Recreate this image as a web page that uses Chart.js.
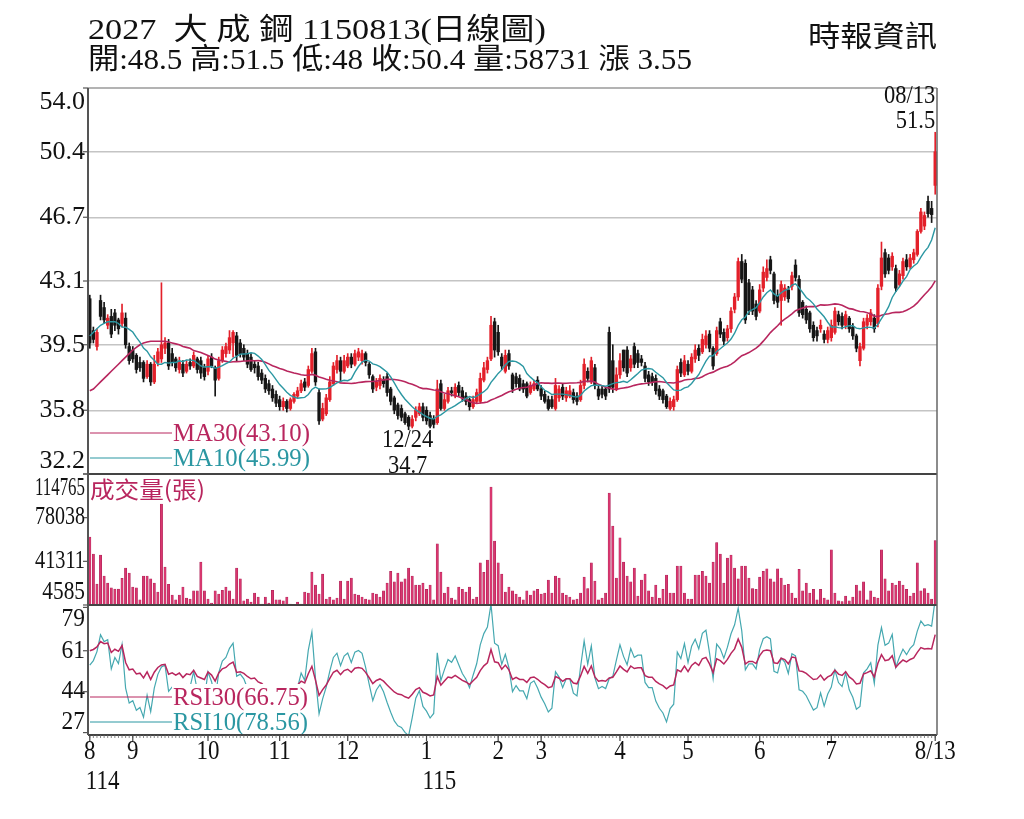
<!DOCTYPE html>
<html>
<head>
<meta charset="utf-8">
<title>2027 大成鋼 日線圖</title>
<script src="https://cdn.jsdelivr.net/npm/chart.js@4.4.1/dist/chart.umd.min.js"></script>
<style>
    html, body { margin: 0; padding: 0; background: #fff; }
    canvas { display: block; }
</style>
</head>
<body>
<canvas id="kChart" width="1024" height="819"></canvas>
<script>
// === Data ===
// one entry per trading day, 114/08/14 .. 115/08/13
const opens = [
    42.1, 40.3, 39.4, 42.0, 41.6, 40.6, 41.1, 41.3, 40.9, 40.7, 41.0, 39.4,
    39.2, 38.9, 38.5, 38.5, 37.7, 38.4, 37.4, 38.5, 38.7, 39.3, 39.6, 39.0, 38.7, 38.1, 38.4, 38.0, 38.5, 38.3, 38.7, 38.6, 38.2,
    38.0, 38.8, 38.2, 37.6, 38.6, 39.0, 39.2, 39.6, 40.0, 39.6, 39.3, 39.0, 38.8, 38.4, 38.3, 37.9, 37.6, 37.3, 37.0, 36.7,
    36.4, 36.0, 36.3, 35.9, 36.3, 36.6, 36.9, 37.4, 37.2, 38.0, 39.1, 36.8, 35.3, 35.6, 36.4, 37.3, 38.1, 38.6, 38.0,
    38.3, 38.8, 38.4, 38.8, 38.6, 39.0, 38.4, 37.7, 37.1, 37.2, 37.5, 37.7, 37.0, 36.5, 36.1, 35.9, 35.6, 35.4, 34.9, 35.4, 35.6, 36.0,
    35.8, 35.5, 35.3, 35.1, 37.3, 35.9, 36.3, 36.9, 36.6, 37.2, 36.9, 36.6, 36.4, 36.0, 36.3, 36.3, 37.5, 38.1, 38.7, 40.8,
    40.2, 38.8, 38.0, 39.0, 37.8, 37.7, 37.6, 37.3, 37.3, 36.8, 37.0, 37.5,
    37.0, 36.7, 36.4, 36.4, 35.9, 36.5, 37.1, 36.5, 36.6, 36.8, 36.6, 36.4, 37.2, 38.0, 37.4, 38.2, 37.0, 37.0, 37.0, 40.2, 38.6, 37.0,
    37.8, 39.2, 39.2, 38.2, 39.4, 39.0, 38.7, 38.3, 37.8, 37.7, 37.6, 37.0, 36.9, 36.6, 35.9, 36.0, 36.4, 38.5, 37.8,
    38.4, 38.0, 38.7, 39.3, 39.1, 39.5, 40.1, 39.3, 39.0, 40.8, 40.2, 39.9, 40.4, 41.5, 42.2, 44.2, 44.1, 43.0, 42.6, 41.8,
    41.4, 42.7, 43.3, 44.3, 43.5, 42.3, 42.0, 42.2, 42.6, 42.8, 44.0, 43.2, 41.9, 41.5, 41.3, 40.6, 40.3, 40.4, 40.1, 39.8,
    39.9, 40.2, 41.2, 41.1, 40.6, 41.0, 40.5, 40.0, 38.6, 39.3, 40.6, 40.8, 41.0, 40.7, 42.8, 44.7, 44.4, 43.9, 43.8, 42.9, 43.4,
    44.3, 43.9, 44.3, 44.6, 45.9, 46.2, 47.6, 47.2, 48.5
];
const highs = [
    42.3, 40.5, 40.4, 42.3, 41.9, 41.2, 41.5, 41.5, 41.0, 41.8, 41.3, 39.6,
    39.4, 39.0, 38.8, 38.6, 38.6, 38.5, 38.9, 39.3, 43.0, 39.9, 39.8, 39.3, 38.8, 38.8, 38.6, 38.6, 38.7, 39.1, 38.8, 38.8, 38.4,
    38.9, 39.0, 38.3, 38.8, 39.4, 39.6, 40.3, 40.3, 40.2, 39.8, 39.5, 39.2, 39.0, 38.6, 38.5, 38.1, 37.8, 37.5, 37.2, 36.9,
    36.6, 36.5, 36.4, 36.5, 36.8, 37.1, 37.5, 37.6, 38.3, 39.3, 39.3, 37.0, 36.2, 36.7, 37.7, 38.5, 38.9, 38.8, 38.9,
    39.0, 39.0, 39.2, 39.3, 39.2, 39.1, 38.5, 37.8, 37.6, 37.8, 37.7, 37.9, 37.1, 36.6, 36.2, 36.1, 35.7, 35.5, 35.5, 36.0, 36.2, 36.2,
    36.0, 35.7, 35.5, 37.5, 37.5, 36.7, 37.1, 37.1, 37.3, 37.4, 37.1, 36.8, 36.5, 36.6, 37.0, 37.9, 38.5, 38.8, 41.1, 41.0,
    40.6, 39.0, 39.2, 39.2, 37.9, 37.9, 37.8, 37.5, 37.4, 37.4, 37.5, 37.7,
    37.2, 36.9, 36.6, 36.6, 37.6, 37.2, 37.3, 37.1, 37.2, 37.0, 36.8, 37.5, 38.7, 38.2, 38.8, 38.4, 37.2, 37.2, 37.1, 40.5, 39.5, 38.2,
    39.0, 39.2, 39.4, 38.9, 39.6, 39.2, 38.9, 38.5, 38.0, 37.9, 37.8, 37.2, 37.0, 36.7, 36.5, 36.6, 38.3, 38.7, 38.9,
    38.6, 39.0, 39.5, 39.5, 40.1, 40.3, 40.3, 39.4, 40.5, 41.0, 40.4, 40.6, 41.6, 42.4, 44.4, 44.6, 44.3, 43.2, 42.8, 42.0,
    42.9, 43.9, 44.3, 44.5, 43.6, 42.6, 43.1, 42.9, 42.8, 43.6, 44.3, 43.4, 42.0, 41.7, 41.4, 40.8, 40.5, 40.9, 40.3, 40.5,
    40.9, 41.6, 41.4, 41.3, 41.4, 41.1, 40.7, 40.1, 39.6, 41.0, 41.2, 41.5, 41.2, 42.9, 45.3, 44.9, 44.6, 44.7, 44.0, 43.7, 44.4,
    44.6, 44.6, 44.9, 46.0, 47.2, 47.0, 47.9, 47.6, 51.5
];
const lows = [
    39.3, 39.6, 39.2, 40.9, 40.7, 40.4, 39.9, 40.3, 40.1, 40.5, 39.3, 38.4,
    38.5, 37.9, 38.0, 37.4, 37.6, 37.2, 37.3, 38.3, 38.5, 39.0, 38.1, 38.3, 38.0, 37.9, 37.7, 37.9, 38.1, 38.2, 37.9, 37.6, 37.5,
    37.8, 38.2, 36.6, 37.5, 38.5, 38.8, 39.0, 38.8, 38.6, 38.8, 38.6, 38.2, 38.0, 37.9, 37.5, 37.3, 36.8, 36.7, 36.3, 36.0,
    35.8, 35.8, 35.7, 35.8, 36.2, 36.5, 36.8, 36.9, 37.1, 37.9, 37.2, 35.0, 35.2, 35.5, 36.3, 37.2, 37.9, 37.4, 37.9,
    38.2, 38.2, 38.3, 38.6, 38.4, 38.3, 37.6, 36.8, 36.9, 37.0, 37.1, 36.6, 36.1, 35.6, 35.3, 35.2, 35.0, 34.7, 34.8, 35.2, 35.5, 35.2,
    35.0, 34.8, 34.8, 35.0, 35.8, 35.8, 36.2, 36.6, 36.5, 36.6, 36.3, 36.1, 35.8, 35.9, 36.2, 36.2, 37.4, 37.9, 38.6, 38.8,
    38.9, 38.1, 37.9, 38.1, 36.8, 37.1, 36.9, 36.8, 36.5, 36.7, 36.9, 36.9,
    36.4, 36.2, 35.8, 35.9, 35.8, 36.3, 36.4, 36.3, 36.5, 36.2, 36.1, 36.3, 37.0, 37.4, 37.3, 37.0, 36.4, 36.5, 36.4, 36.8, 36.8, 36.9,
    37.6, 38.0, 37.7, 38.0, 38.2, 38.2, 38.3, 37.4, 37.2, 37.2, 36.7, 36.4, 36.2, 35.9, 35.8, 35.8, 36.3, 37.7, 37.7,
    37.8, 37.9, 38.5, 38.6, 39.0, 39.3, 39.1, 38.1, 38.9, 39.9, 39.5, 39.7, 40.2, 41.3, 42.0, 43.0, 40.7, 41.2, 41.2, 40.9,
    41.3, 42.5, 43.1, 43.5, 41.8, 41.6, 40.6, 42.0, 41.9, 42.6, 43.1, 41.1, 41.0, 40.7, 40.2, 39.7, 39.7, 40.2, 39.6, 39.6,
    39.7, 40.1, 40.6, 40.4, 40.4, 40.2, 39.8, 39.1, 38.3, 39.2, 40.4, 40.6, 40.2, 40.5, 42.6, 43.3, 43.5, 43.7, 42.5, 42.8, 43.2,
    43.7, 43.8, 44.1, 44.5, 45.8, 46.0, 46.7, 46.4, 48.0
];
const closes = [
    39.6, 39.8, 40.2, 41.1, 40.9, 41.0, 40.1, 40.6, 40.4, 41.3, 39.5, 38.6,
    38.7, 38.1, 38.2, 37.6, 38.4, 37.4, 38.4, 39.1, 39.5, 39.6, 38.3, 38.5, 38.2, 38.5, 37.9, 38.4, 38.3, 38.9, 38.1, 37.9, 37.7,
    38.7, 38.3, 37.5, 38.6, 39.2, 39.4, 39.9, 40.2, 38.9, 39.0, 38.8, 38.4, 38.1, 38.2, 37.7, 37.5, 37.0, 36.9, 36.5, 36.2,
    36.0, 36.3, 35.9, 36.4, 36.7, 36.9, 37.3, 37.1, 38.1, 39.0, 37.4, 35.2, 35.9, 36.5, 37.4, 38.3, 38.6, 38.0, 38.6,
    38.8, 38.4, 39.0, 39.1, 39.0, 38.5, 37.8, 37.0, 37.4, 37.6, 37.3, 36.8, 36.3, 35.8, 35.5, 35.4, 35.1, 34.9, 35.3, 35.8, 36.0, 35.4,
    35.2, 34.9, 35.0, 37.0, 35.9, 36.4, 36.9, 36.8, 37.1, 36.8, 36.5, 36.3, 36.0, 36.4, 36.8, 37.6, 38.2, 38.6, 40.6, 39.2,
    39.1, 38.3, 38.9, 38.3, 37.0, 37.3, 37.0, 37.0, 36.6, 37.2, 37.3, 37.0,
    36.6, 36.3, 35.9, 36.0, 37.2, 37.0, 36.6, 36.9, 36.9, 36.4, 36.3, 37.2, 38.4, 37.6, 38.6, 37.2, 36.6, 36.7, 36.6, 37.0, 37.1, 37.8,
    38.6, 38.2, 37.9, 38.7, 38.4, 38.5, 38.5, 37.6, 37.4, 37.4, 36.9, 36.6, 36.4, 36.0, 36.3, 36.4, 38.1, 37.9, 38.6,
    38.0, 38.8, 39.2, 38.9, 39.8, 40.0, 39.3, 38.3, 40.3, 40.1, 39.7, 40.4, 41.4, 42.2, 44.2, 43.2, 40.9, 41.4, 41.4, 41.1,
    42.6, 43.6, 43.8, 43.7, 42.0, 41.9, 42.9, 42.7, 42.1, 43.4, 43.3, 41.3, 41.2, 40.9, 40.4, 39.9, 40.0, 40.6, 39.8, 40.3,
    40.6, 41.4, 40.8, 40.6, 41.2, 40.4, 40.0, 39.3, 39.4, 40.8, 41.0, 41.3, 40.4, 42.7, 44.4, 43.5, 43.7, 44.5, 42.7, 43.5, 44.2,
    43.9, 44.4, 44.7, 45.9, 47.0, 46.8, 46.9, 46.85, 50.4
];
// 成交量 (張)
const volumes = [
    61800, 47500, 22200, 46600, 29000, 23000, 19000, 18000, 18000, 27000,
    35700, 31500, 19700, 19000, 9000, 29000, 29000, 26500, 23000, 15500,
    89500, 36500, 22000, 13000, 9000, 13000, 19700, 10500, 9600, 16400,
    16400, 40700, 16400, 9600, 6300, 16400, 13800, 17000, 19700, 16400,
    9600, 35700, 26500, 8000, 9600, 7000, 14700, 11300, 5400, 11300,
    6300, 17000, 9000, 9000, 8000, 11300, 5400, 5000, 7000, 5400,
    15500, 14700, 32300, 21400, 13800, 30600, 9600, 11300, 9000, 10500,
    24800, 9600, 24800, 27300, 13800, 13000, 11300, 9600, 9000, 14700,
    13800, 11300, 16400, 23000, 33000, 24000, 31500, 24000, 26500, 35700,
    29000, 21400, 21400, 23000, 17700, 21400, 9000, 56000, 32300, 14700,
    19700, 10500, 9000, 19700, 17700, 15500, 19700, 9600, 11300, 40000,
    32000, 42400, 103800, 58400, 40000, 30600, 15500, 19700, 16400, 13800,
    11300, 9000, 16400, 13000, 16400, 17700, 13800, 14700, 25600, 14700,
    29000, 27300, 14700, 13000, 11300, 9000, 9600, 14700, 28000, 18500,
    40000, 24800, 9000, 10500, 14700, 98800, 71000, 27300, 61000, 40700,
    29000, 24000, 35700, 12000, 25600, 30600, 16400, 11300, 21400, 10500,
    17700, 29800, 14700, 14700, 37400, 37400, 14700, 9600, 9600, 29800,
    29800, 33000, 29000, 23000, 40700, 57000, 47500, 23000, 44000, 46600,
    35700, 26500, 37400, 37400, 27300, 18500, 17700, 28000, 33000, 35000,
    26500, 24000, 35000, 27300, 21400, 22000, 14700, 10500, 34500, 16400,
    23000, 14700, 17700, 9000, 17700, 10500, 9000, 51000, 14700, 8000,
    7500, 12000, 8000, 11300, 21400, 16400, 24000, 9000, 16400, 11300,
    10500, 51000, 26500, 16400, 23000, 21400, 24800, 21400, 17700, 12000,
    14700, 40000, 16400, 18500, 14700, 9600, 58731
];
// moving averages before a full window exists
const ma10Head = [40.0, 40.2, 40.4, 40.6, 40.7, 40.8, 40.8, 40.8, 40.7];
const ma30Head = [36.9, 37.0, 37.2, 37.4, 37.6, 37.8, 38.0, 38.2, 38.4, 38.6,
    38.8, 39.0, 39.2, 39.35, 39.5, 39.6, 39.65, 39.7, 39.7, 39.7,
    39.7, 39.7, 39.65, 39.6, 39.55, 39.5, 39.4, 39.35, 39.3];
const rsi10Start = 55;
const rsi30Start = 61;

// axis ticks
const priceTicks = [54.0, 50.4, 46.7, 43.1, 39.5, 35.8, 32.2];
const volumeTicks = [114765, 78038, 41311, 4585];
const rsiTicks = [79, 61, 44, 27];
const monthStart = [0, 12, 33, 53, 72, 94, 114, 126, 148, 167, 187, 207, 236];
const monthLabels = ['8', '9', '10', '11', '12', '1', '2', '3', '4', '5', '6', '7', '8/13'];
const yearStart = [0, 94];
const yearLabels = ['114', '115'];
const lowMark = ['12/24', '34.7'];
const highMark = ['08/13', '51.5'];
const maLegend = ['MA30(43.10)', 'MA10(45.99)'];
const rsiLegend = ['RSI30(66.75)', 'RSI10(78.56)'];

// === Colors / fonts ===
const RED = '#e3202a';
const BLACK = '#161616';
const CRIMSON = '#b8265e';
const TEAL = '#2b97a2';
const PINK = '#d9376f';
const SERIF = '"Liberation Serif", "Noto Sans CJK TC", serif';
const CJK = '"Noto Sans CJK TC", "Liberation Serif", sans-serif';

// === Derived series ===
const candleColors = closes.map((c, i) => c > opens[i] ? RED : BLACK);
const wicks = closes.map((c, i) => [Math.min(lows[i], opens[i], c), Math.max(highs[i], opens[i], c)]);
const bodies = closes.map((c, i) => [opens[i], c]);

function movingAverage(n, head) {
    return closes.map((c, i) => {
        if (i < n - 1) return head[i];
        let sum = 0;
        for (let k = i - n + 1; k <= i; k++) sum += closes[k];
        return sum / n;
    });
}

function rsi(n, start) {
    let gain = start / 100 * 0.5;
    let loss = (1 - start / 100) * 0.5;
    return closes.map((c, i) => {
        if (i > 0) {
            const d = c - closes[i - 1];
            gain = (gain * (n - 1) + Math.max(d, 0)) / n;
            loss = (loss * (n - 1) + Math.max(-d, 0)) / n;
        }
        return 100 * gain / (gain + loss);
    });
}

const ma10 = movingAverage(10, ma10Head);
const ma30 = movingAverage(30, ma30Head);
const rsi10 = rsi(10, rsi10Start);
const rsi30 = rsi(30, rsi30Start);

// draw text, optionally squeezed to a given width
function txt(ctx, s, x, y, o) {
    ctx.save();
    ctx.font = o.font;
    ctx.textBaseline = o.base || 'middle';
    ctx.textAlign = 'left';
    const w = ctx.measureText(s).width;
    let sx = o.width ? o.width / w : (o.sx || 1);
    if (o.maxW && w * sx > o.maxW) sx = o.maxW / w;
    const dw = w * sx;
    let left = x;
    if (o.align === 'right') left = x - dw;
    else if (o.align === 'center') left = x - dw / 2;
    ctx.fillStyle = o.color || '#111';
    ctx.translate(left, y);
    ctx.scale(sx, 1);
    ctx.fillText(s, 0, 0);
    ctx.restore();
}

function hline(ctx, x1, x2, y, color, w) {
    ctx.beginPath();
    ctx.strokeStyle = color;
    ctx.lineWidth = w;
    ctx.moveTo(x1, y);
    ctx.lineTo(x2, y);
    ctx.stroke();
}

function vline(ctx, x, y1, y2, color, w) {
    ctx.beginPath();
    ctx.strokeStyle = color;
    ctx.lineWidth = w;
    ctx.moveTo(x, y1);
    ctx.lineTo(x, y2);
    ctx.stroke();
}

// === Frame, labels and legends ===
const framePlugin = {
    id: 'frame',
    afterDraw(chart) {
        const { ctx, chartArea: a, scales } = chart;
        const xs = scales.x, yp = scales.y, yv = scales.yv, yr = scales.yr;

        // legend blocks (white backing hides the lines under the text)
        ctx.fillStyle = '#fff';
        ctx.fillRect(172, 684, 140, 50);
        const legendRows = [
            [433, maLegend[0], CRIMSON], [458, maLegend[1], TEAL],
            [697, rsiLegend[0], CRIMSON], [722, rsiLegend[1], TEAL]
        ];
        legendRows.forEach(([y, s, col]) => {
            hline(ctx, 90, 172, y, col, 1);
            txt(ctx, s, 173, y + 1, { font: '25px ' + SERIF, color: col, width: s.length > 11 ? 135 : 137 });
        });
        txt(ctx, '成交量(張)', 90, 489, { font: '23px ' + CJK, color: CRIMSON, width: 115 });

        // panel borders
        hline(ctx, a.left, a.right, a.top, '#9a9a9a', 1.5);
        hline(ctx, a.left, a.right, yp.bottom, '#444', 2);
        hline(ctx, a.left, a.right, yv.bottom, '#444', 2);
        hline(ctx, a.left, a.right, a.bottom, '#444', 2);
        vline(ctx, a.left, a.top, a.bottom, '#555', 2);
        vline(ctx, a.right, a.top, a.bottom, '#666', 1.5);

        // y labels, edge labels pushed inside their panel
        const axisLabels = (scale, vals, fmt, opt) => {
            vals.forEach(v => {
                const py = scale.getPixelForValue(v);
                const ly = Math.min(Math.max(py, scale.top + 14), scale.bottom - 13);
                hline(ctx, a.left - 5, a.left, py, '#555', 1.2);
                txt(ctx, fmt(v), 85, ly, Object.assign({ align: 'right' }, opt));
            });
        };
        axisLabels(yp, priceTicks, v => v.toFixed(1), { font: '26px ' + SERIF });
        axisLabels(yv, volumeTicks, v => String(v), { font: '26px ' + SERIF, sx: 0.82, maxW: 50 });
        axisLabels(yr, rsiTicks, v => String(v), { font: '26px ' + SERIF, sx: 0.9 });

        // x tick marks and month labels
        for (let i = 0; i < closes.length; i++) {
            vline(ctx, xs.getPixelForValue(i), a.bottom, a.bottom + 3, '#666', 0.8);
        }
        monthStart.forEach((i, k) => {
            const px = xs.getPixelForValue(i);
            vline(ctx, px, a.bottom, a.bottom + 6, '#444', 1.2);
            txt(ctx, monthLabels[k], px, 759, { font: '28px ' + SERIF, align: 'center', sx: 0.82, base: 'alphabetic' });
        });
        yearStart.forEach((i, k) => {
            const px = xs.getPixelForValue(i);
            txt(ctx, yearLabels[k], px - 4, 789, { font: '28px ' + SERIF, sx: 0.82, base: 'alphabetic' });
        });

        // low / last-day marks
        let lowIdx = 0;
        lows.forEach((l, i) => { if (l < lows[lowIdx]) lowIdx = i; });
        const lx = xs.getPixelForValue(lowIdx);
        txt(ctx, lowMark[0], lx - 1, 440, { font: '25px ' + SERIF, align: 'center', sx: 0.9 });
        txt(ctx, lowMark[1], lx - 1, 466, { font: '25px ' + SERIF, align: 'center', sx: 0.9 });
        const last = closes.length - 1;
        const hx = xs.getPixelForValue(last);
        const hy = yp.getPixelForValue(highs[last]);
        txt(ctx, highMark[0], hx, hy - 36, { font: '25px ' + SERIF, align: 'right', sx: 0.9 });
        txt(ctx, highMark[1], hx, hy - 11, { font: '25px ' + SERIF, align: 'right', sx: 0.9 });

        // title block
        const prev = closes[last - 1];
        const line2 = '開:' + opens[last] + ' 高:' + highs[last] + ' 低:' + lows[last] +
            ' 收:' + closes[last] + ' 量:' + volumes[last] + ' 漲 ' + (closes[last] - prev).toFixed(2);
        txt(ctx, '2027  大 成 鋼 1150813(日線圖)', 88, 39, { font: '30px ' + SERIF, width: 458, base: 'alphabetic' });
        txt(ctx, line2, 88, 69, { font: '29px ' + SERIF, width: 604, base: 'alphabetic' });
        txt(ctx, '時報資訊', 808, 47, { font: '29px ' + CJK, width: 129, base: 'alphabetic' });
    }
};

// === Chart ===
const hideAxis = s => { s.width = 0; };
const ctxK = document.getElementById('kChart').getContext('2d');
const kChart = new Chart(ctxK, {
    type: 'bar',
    data: {
        labels: closes.map((c, i) => i),
        datasets: [
            {
                type: 'line', data: ma10, yAxisID: 'y', borderColor: TEAL, borderWidth: 1.4,
                pointRadius: 0, order: 1
            },
            {
                type: 'line', data: ma30, yAxisID: 'y', borderColor: CRIMSON, borderWidth: 1.6,
                pointRadius: 0, order: 1
            },
            {
                type: 'bar', data: wicks, yAxisID: 'y', backgroundColor: candleColors,
                barThickness: 1, grouped: false, order: 3
            },
            {
                type: 'bar', data: bodies, yAxisID: 'y', backgroundColor: candleColors,
                barThickness: 2.7, grouped: false, minBarLength: 1, order: 2
            },
            {
                type: 'bar', data: volumes, yAxisID: 'yv', backgroundColor: PINK,
                borderColor: '#a51d52', borderWidth: 0.5, base: volumeTicks[3],
                barThickness: 2.3, grouped: false, order: 2
            },
            {
                type: 'line', data: rsi10, yAxisID: 'yr', borderColor: '#45a8b0', borderWidth: 1.2,
                pointRadius: 0, order: 1
            },
            {
                type: 'line', data: rsi30, yAxisID: 'yr', borderColor: CRIMSON, borderWidth: 1.5,
                pointRadius: 0, order: 0
            }
        ]
    },
    options: {
        responsive: false,
        animation: false,
        layout: { padding: { left: 88, top: 88, right: 87, bottom: 84 } },
        plugins: {
            legend: { display: false },
            tooltip: { enabled: false }
        },
        scales: {
            x: {
                offset: true,
                grid: { display: false },
                border: { display: false },
                ticks: { display: false },
                afterFit: s => { s.height = 0; }
            },
            yr: {
                position: 'left', stack: 'panels', stackWeight: 130, weight: 1,
                min: 26, max: 80,
                grid: { display: false }, border: { display: false },
                ticks: { display: false },
                afterFit: hideAxis
            },
            yv: {
                position: 'left', stack: 'panels', stackWeight: 131, weight: 2,
                min: volumeTicks[3], max: volumeTicks[0],
                grid: { display: false }, border: { display: false },
                ticks: { display: false },
                afterFit: hideAxis
            },
            y: {
                position: 'left', stack: 'panels', stackWeight: 386, weight: 3,
                min: 32.2, max: 54.0,
                afterBuildTicks: s => { s.ticks = priceTicks.map(v => ({ value: v })); },
                grid: {
                    drawTicks: false,
                    lineWidth: 1.5,
                    color: c => (c.tick && (c.tick.value === 54.0 || c.tick.value === 32.2)) ? 'rgba(0,0,0,0)' : '#c4c4c4'
                },
                border: { display: false },
                ticks: { display: false },
                afterFit: hideAxis
            }
        }
    },
    plugins: [framePlugin]
});
</script>
</body>
</html>
